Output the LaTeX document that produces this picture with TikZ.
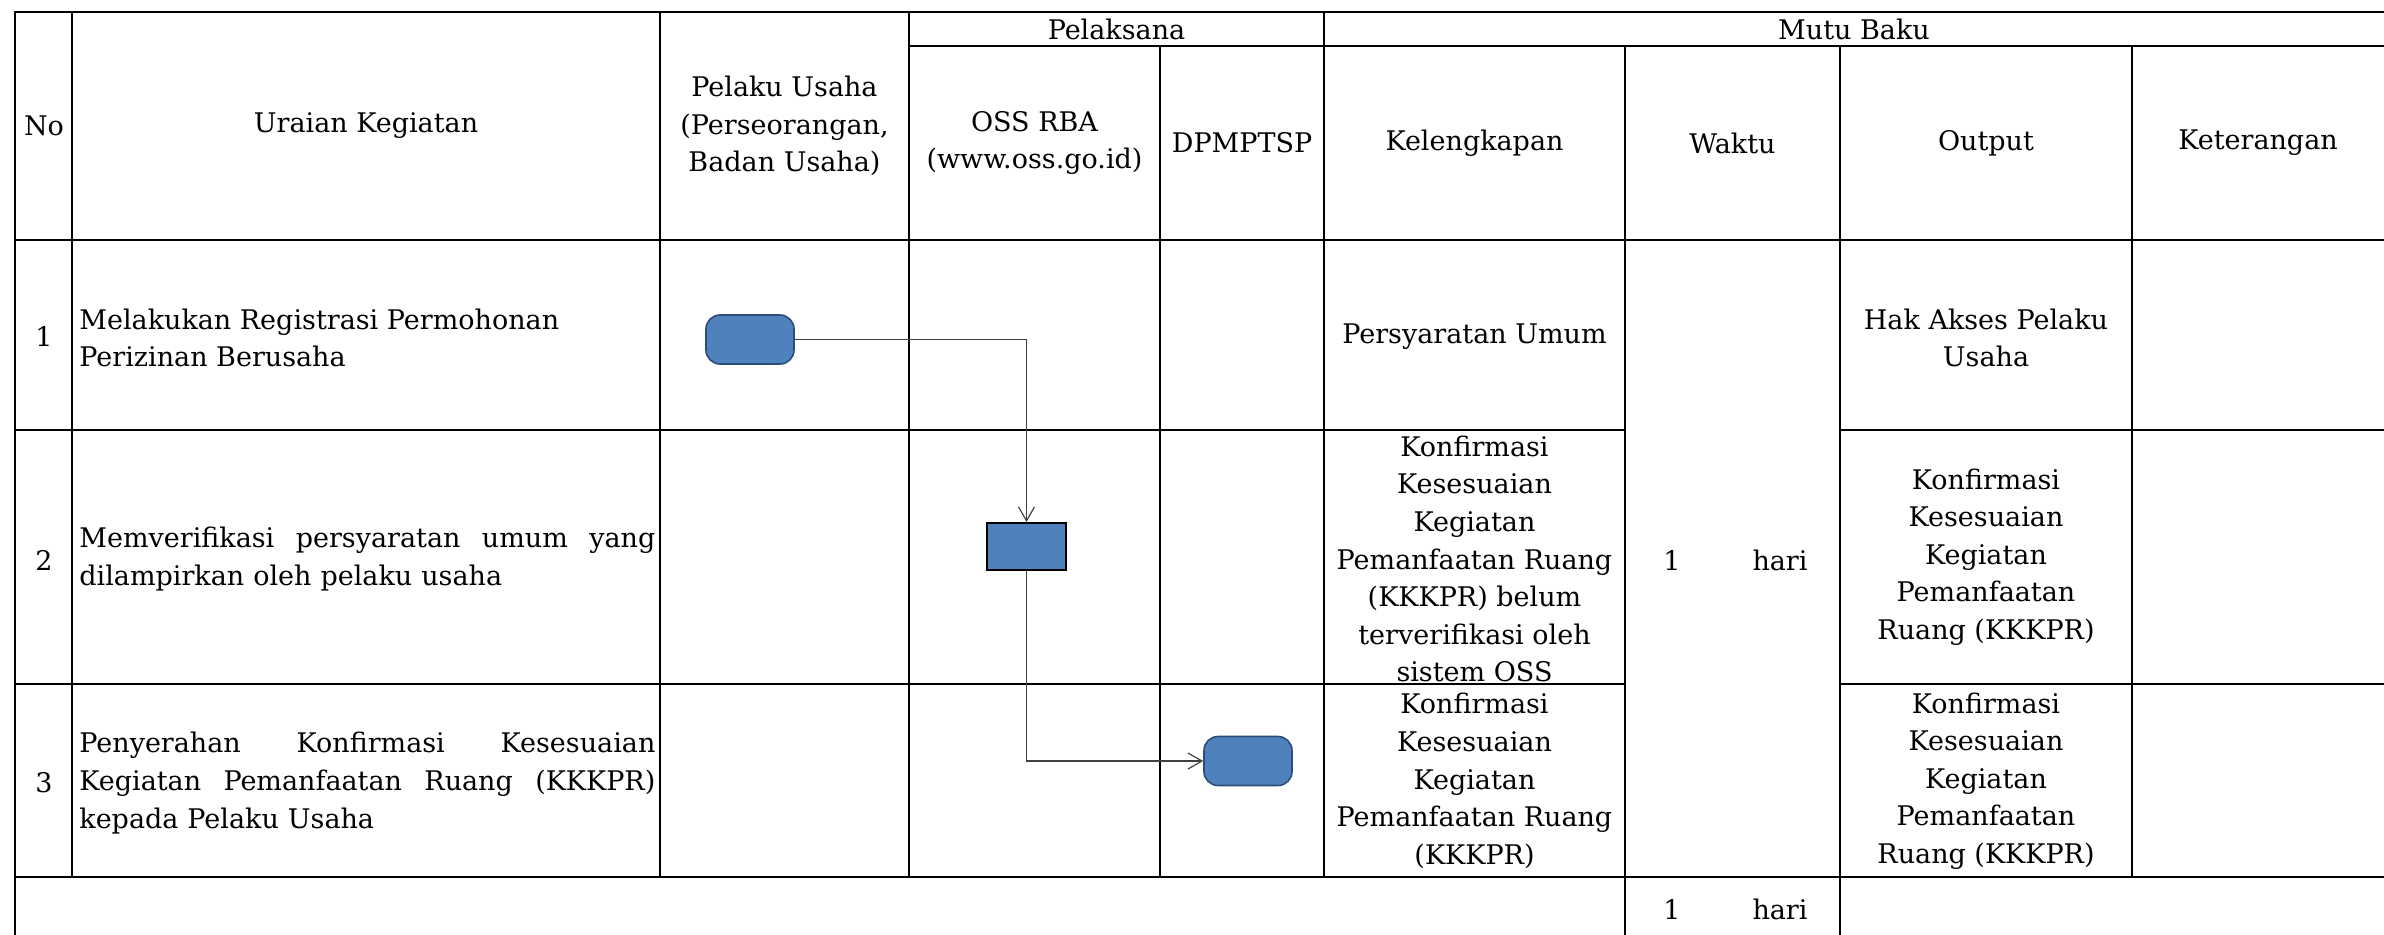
\documentclass[tikz,border=0pt]{standalone}
\usepackage{fontspec}
\setmainfont{DejaVu Serif}
\usetikzlibrary{arrows.meta}
\definecolor{stepblue}{HTML}{4F81BD}
\definecolor{stepedge}{HTML}{2C4D75}
% a justified line of the activity column: words spread over the full width
\newcommand{\fullline}[1]{\leavevmode\hbox to 288pt{#1}}
\begin{document}
\begin{tikzpicture}[x=0.5pt,y=-0.5pt,
  grid/.style={line width=1.4pt, line cap=rect},
  txt/.style={font=\fontsize{13.5}{18.8}\selectfont, inner sep=0pt, align=center},
  lefttxt/.style={txt, align=left, anchor=west},
  justtxt/.style={txt, text width=288pt, align=left, anchor=west},
  terminal/.style={draw=stepedge, fill=stepblue, rounded corners=7pt, line width=0.8pt,
    minimum width=44pt, minimum height=24.5pt, inner sep=0pt},
  process/.style={draw=black, fill=stepblue, line width=1pt,
    minimum width=39.5pt, minimum height=23.5pt, inner sep=0pt},
  flow/.style={draw=black!75, line width=0.6pt, -{Straight Barb[length=7pt,width=8pt]}}
]
\useasboundingbox (0,0) rectangle (2384,934);

% ---- table grid ----
\draw[grid] (15,12) -- (15,940);
\draw[grid] (72,12) -- (72,877);
\draw[grid] (660,12) -- (660,877);
\draw[grid] (909,12) -- (909,877);
\draw[grid] (1160,46) -- (1160,877);
\draw[grid] (1324,12) -- (1324,877);
\draw[grid] (1625,46) -- (1625,940);
\draw[grid] (1840,46) -- (1840,940);
\draw[grid] (2132,46) -- (2132,877);
\draw[grid] (2388,12) -- (2388,940);

\draw[grid] (15,12) -- (2390,12);
\draw[grid] (909,46) -- (2390,46);
\draw[grid] (15,240) -- (2390,240);
\draw[grid] (15,430) -- (1625,430);
\draw[grid] (1840,430) -- (2390,430);
\draw[grid] (15,684) -- (1625,684);
\draw[grid] (1840,684) -- (2390,684);
\draw[grid] (15,877) -- (2390,877);

% ---- header ----
\node[txt] (hNo) at (44,126) {No};
\node[txt] (hUraian) at (366,126) {Uraian Kegiatan};
\node[txt] (hPelaku) at (784.5,126) {Pelaku Usaha\\(Perseorangan,\\Badan Usaha)};
\node[txt] (hPelaksana) at (1116.5,29) {Pelaksana};
\node[txt] (hMutu) at (1854,29) {Mutu Baku};
\node[txt] (hOss) at (1034.5,143) {OSS RBA\\(www.oss.go.id)};
\node[txt] (hDpm) at (1242,143) {DPMPTSP};
\node[txt] (hKel) at (1474.5,143) {Kelengkapan};
\node[txt] (hWaktu) at (1732.5,143) {Waktu};
\node[txt] (hOut) at (1986,143) {Output};
\node[txt] (hKet) at (2258,143) {Keterangan};

% ---- row 1 ----
\node[txt] (n1) at (44,336) {1};
\node[lefttxt] (u1) at (79,338) {Melakukan Registrasi Permohonan\\Perizinan Berusaha};
\node[txt] (k1) at (1474.5,337) {Persyaratan Umum};
\node[txt] (o1) at (1986,338) {Hak Akses Pelaku\\Usaha};

% ---- row 2 ----
\node[txt] (n2) at (44,560) {2};
\node[justtxt] (u2) at (79,559) {\fullline{Memverifikasi\hfill persyaratan\hfill umum\hfill yang}\\dilampirkan oleh pelaku usaha};
\node[txt] (k2) at (1474.5,559) {Konfirmasi\\Kesesuaian\\Kegiatan\\Pemanfaatan Ruang\\(KKKPR) belum\\terverifikasi oleh\\sistem OSS};
\node[txt] (o2) at (1986,557) {Konfirmasi\\Kesesuaian\\Kegiatan\\Pemanfaatan\\Ruang (KKKPR)};

% ---- row 3 ----
\node[txt] (n3) at (44,783) {3};
\node[justtxt] (u3) at (79,783) {\fullline{Penyerahan\hfill Konfirmasi\hfill Kesesuaian}\\\fullline{Kegiatan\hfill Pemanfaatan\hfill Ruang\hfill (KKKPR)}\\kepada Pelaku Usaha};
\node[txt] (k3) at (1474.5,781) {Konfirmasi\\Kesesuaian\\Kegiatan\\Pemanfaatan Ruang\\(KKKPR)};
\node[txt] (o3) at (1986,781) {Konfirmasi\\Kesesuaian\\Kegiatan\\Pemanfaatan\\Ruang (KKKPR)};

% ---- time ----
\node[txt] (w1) at (1672,560) {1};
\node[txt] (w1h) at (1780,560) {hari};
\node[txt] (w2) at (1672,909) {1};
\node[txt] (w2h) at (1780,909) {hari};

% ---- flow ----
\node[terminal] (t1) at (750,339.5) {};
\node[process] (p2) at (1026.5,546.5) {};
\node[terminal] (t3) at (1248,761) {};
\draw[flow] (t1.east) -| (p2.north);
\draw[flow] (p2.south) |- (t3.west);
\end{tikzpicture}
\end{document}
